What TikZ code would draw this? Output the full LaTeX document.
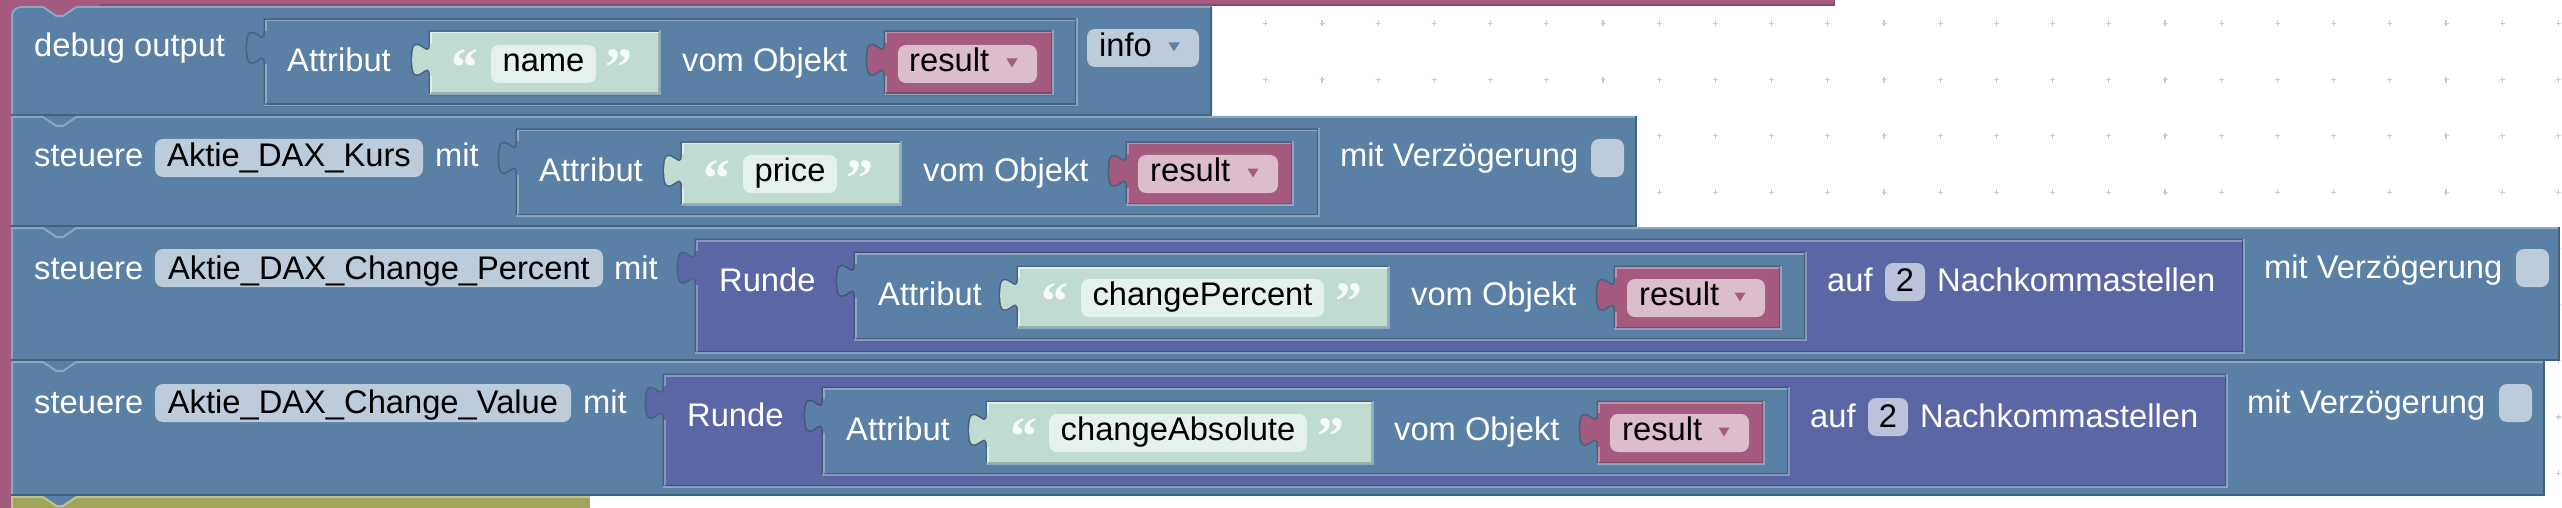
\documentclass[tikz,border=0pt]{standalone}
\usepackage{fontspec}
\setmainfont{Liberation Sans}
\newfontfamily\qfont{Liberation Serif}
\definecolor{bl}{HTML}{5B80A5}
\definecolor{bll}{HTML}{8CA6C0}
\definecolor{bld}{HTML}{45627F}
\definecolor{pk}{HTML}{A55B80}
\definecolor{pkl}{HTML}{C08CA6}
\definecolor{pkd}{HTML}{844966}
\definecolor{gr}{HTML}{C0DCD2}
\definecolor{grl}{HTML}{E0EEE9}
\definecolor{grd}{HTML}{9AB5AB}
\definecolor{rd}{HTML}{5B67A5}
\definecolor{rdl}{HTML}{8C95C0}
\definecolor{rdd}{HTML}{465080}
\definecolor{ol}{HTML}{A0A55B}
\definecolor{oll}{HTML}{C0C48C}
\definecolor{blf}{HTML}{BDCCDB}
\definecolor{pkf}{HTML}{DBBDCC}
\definecolor{grf}{HTML}{E5F1ED}
\definecolor{rdf}{HTML}{BDC2DB}
\definecolor{dotc}{HTML}{CCCCCC}
\definecolor{qc}{HTML}{F5FAF8}
\newcommand\fs{\fontsize{32.7}{38}\selectfont}
% child output block: L T R B fill light dark parentdark parentlight
\newcommand\child[9]{%
\begin{scope}[shift={(#1,#2)}]
\pgfmathsetmacro\W{#3-#1}%
\pgfmathsetmacro\H{#4-#2}%
\draw[#8, line width=3] (0,0) -- (\W,0) -- (\W,\H) -- (0,\H) -- (0,44.5) .. controls (0,22.2) and (-17.8,62.3) .. (-17.8,27.8) .. controls (-17.8,-6.7) and (0,33.4) .. (0,11.1) -- cycle;
\draw[#9, line width=1.5] (-1.5,\H+0.75) -- (\W+0.75,\H+0.75) -- (\W+0.75,-1.5);
\fill[#5] (0,0) -- (\W,0) -- (\W,\H) -- (0,\H) -- (0,44.5) .. controls (0,22.2) and (-17.8,62.3) .. (-17.8,27.8) .. controls (-17.8,-6.7) and (0,33.4) .. (0,11.1) -- cycle;
\draw[#6, line width=1.5] (0.75,11.1) -- (0.75,0.75) -- (\W-0.75,0.75) (0.75,44.5) -- (0.75,\H);
\draw[#7, line width=1.5] (0.75,\H-0.75) -- (\W-0.75,\H-0.75) -- (\W-0.75,0.75);
\end{scope}}
% statement block row: top bottom right
\newcommand\row[3]{%
\fill[bl] (11,#1) rectangle (#3,#2);
\draw[bll, line width=2] (12,#2) -- (12,#1+1) -- (43,#1+1) -- (56.4,#1+10) -- (63,#1+10) -- (76.4,#1+1) -- (#3-1,#1+1);
\draw[bld, line width=2] (#3-1,#1) -- (#3-1,#2-1) -- (11,#2-1);}
\newcommand\tri[3]{\fill[#3] (#1-5.5,#2-4.5) -- (#1+5.5,#2-4.5) -- (#1,#2+4.5) -- cycle;}
\tikzset{
 lab/.style={anchor=base west, inner sep=0, text=white, font=\fs},
 blk/.style={anchor=base west, inner sep=0, text=black, font=\fs},
 ftxt/.style={anchor=base, inner sep=0, text=black, font=\fs},
 quo/.style={anchor=base west, inner sep=0, text=qc, font=\qfont\bfseries\fontsize{54}{54}\selectfont},
}
\begin{document}
\begin{tikzpicture}[x=1pt,y=-1pt]
\useasboundingbox (0,0) rectangle (2562,508);
\fill[white] (0,0) rectangle (2562,508);
\foreach \i in {0,...,45}{\foreach \j in {0,...,8}{
 \draw[dotc, line width=1.2] (29.4+56.2*\i-2.5,23.5+56.2*\j) -- ++(5,0) (29.4+56.2*\i,23.5+56.2*\j-3) -- ++(0,6);}}
% pink surrounding block
\fill[pk] (0,0) rectangle (1835,6);
\fill[pk] (0,0) rectangle (11,508);
\fill[pk] (0,0) rectangle (100,24);
\draw[pkd, line width=1.5] (100,5.25) -- (1834.25,5.25) -- (1834.25,0);
% ---------- row 1
\fill[bl] (11,116) -- (11,16) .. controls (11,10.5) and (15.5,6) .. (21,6) -- (43,6) -- (56.4,15) -- (63,15) -- (76.4,6) -- (1212,6) -- (1212,116) -- cycle;
\draw[bll, line width=2] (12,116) -- (12,16) .. controls (12,11) and (16,7) .. (21,7) -- (43,7) -- (56.4,16) -- (63,16) -- (76.4,7) -- (1211,7);
\draw[bld, line width=2] (1211,7) -- (1211,115) -- (11,115);
\child{265}{20}{1076}{105}{bl}{bll}{bld}{bld}{bll}
\child{430}{32}{659}{94}{gr}{grl}{grd}{bld}{bll}
\child{885}{32}{1052}{94}{pk}{pkl}{pkd}{bld}{bll}
\node[lab] (r1a) at (34,57) {debug output};
\node[lab] (r1b) at (287,72) {Attribut};
\node[quo] (r1q1) at (451,86) {“};
\fill[grf, rounded corners=8] (491,45) rectangle (596,83);
\node[ftxt] (r1n) at (543.5,72) {name};
\node[quo] (r1q2) at (605,86) {”};
\node[lab] (r1c) at (682,72) {vom Objekt};
\fill[pkf, rounded corners=8] (898,45) rectangle (1037,83);
\node[blk] (r1r) at (909,72) {result};
\tri{1012}{63}{pk}
\fill[blf, rounded corners=8] (1087,29) rectangle (1199,67);
\node[blk] (r1i) at (1099,57) {info};
\tri{1174}{47}{bl}
% ---------- row 2
\row{116}{227}{1637}
\child{517}{130}{1318}{215}{bl}{bll}{bld}{bld}{bll}
\child{682}{143}{900}{204}{gr}{grl}{grd}{bld}{bll}
\child{1127}{143}{1292}{204}{pk}{pkl}{pkd}{bld}{bll}
\node[lab] (r2a) at (34,167) {steuere};
\fill[blf, rounded corners=8] (155,139) rectangle (423,177);
\node[ftxt] (r2v) at (289,167) {Aktie\_DAX\_Kurs};
\node[lab] (r2m) at (435,167) {mit};
\node[lab] (r2b) at (539,182) {Attribut};
\node[quo] (r2q1) at (703,196) {“};
\fill[grf, rounded corners=8] (743,155) rectangle (837,193);
\node[ftxt] (r2n) at (790,182) {price};
\node[quo] (r2q2) at (846,196) {”};
\node[lab] (r2c) at (923,182) {vom Objekt};
\fill[pkf, rounded corners=8] (1138,155) rectangle (1278,193);
\node[blk] (r2r) at (1150,182) {result};
\tri{1253}{173}{pk}
\node[lab] (r2d) at (1340,167) {mit Verzögerung};
\fill[blf, rounded corners=8] (1591,139) rectangle (1624,177);
% ---------- row 3
\row{227}{361}{2560}
\child{696}{240}{2243}{352}{rd}{rdl}{rdd}{bld}{bll}
\child{855}{253}{1805}{339}{bl}{bll}{bld}{rdd}{rdl}
\child{1018}{267}{1388}{327}{gr}{grl}{grd}{bld}{bll}
\child{1615}{267}{1780}{328}{pk}{pkl}{pkd}{bld}{bll}
\node[lab] (r3a) at (34,279) {steuere};
\fill[blf, rounded corners=8] (155,249) rectangle (603,287);
\node[ftxt] (r3v) at (379,279) {Aktie\_DAX\_Change\_Percent};
\node[lab] (r3m) at (614,279) {mit};
\node[lab] (r3e) at (719,291) {Runde};
\node[lab] (r3b) at (878,305) {Attribut};
\node[quo] (r3q1) at (1041,319) {“};
\fill[grf, rounded corners=8] (1081,279) rectangle (1324,317);
\node[ftxt] (r3n) at (1202.5,305) {changePercent};
\node[quo] (r3q2) at (1335,319) {”};
\node[lab] (r3c) at (1411,305) {vom Objekt};
\fill[pkf, rounded corners=8] (1627,279) rectangle (1765,317);
\node[blk] (r3r) at (1639,305) {result};
\tri{1740}{297}{pk}
\node[lab] (r3f) at (1827,291) {auf};
\fill[rdf, rounded corners=8] (1885,263) rectangle (1925,301);
\node[ftxt] (r3k) at (1905,291) {2};
\node[lab] (r3g) at (1937,291) {Nachkommastellen};
\node[lab] (r3d) at (2264,278) {mit Verzögerung};
\fill[blf, rounded corners=8] (2516,249) rectangle (2549,287);
% ---------- row 4
\row{361}{496}{2545}
\child{664}{375}{2226}{486}{rd}{rdl}{rdd}{bld}{bll}
\child{823}{388}{1788}{474}{bl}{bll}{bld}{rdd}{rdl}
\child{987}{402}{1372}{463}{gr}{grl}{grd}{bld}{bll}
\child{1598}{402}{1763}{463}{pk}{pkl}{pkd}{bld}{bll}
\node[lab] (r4a) at (34,413) {steuere};
\fill[blf, rounded corners=8] (155,384) rectangle (571,422);
\node[ftxt] (r4v) at (363,413) {Aktie\_DAX\_Change\_Value};
\node[lab] (r4m) at (583,413) {mit};
\node[lab] (r4e) at (687,426) {Runde};
\node[lab] (r4b) at (846,440) {Attribut};
\node[quo] (r4q1) at (1010,454) {“};
\fill[grf, rounded corners=8] (1049,414) rectangle (1307,452);
\node[ftxt] (r4n) at (1178,440) {changeAbsolute};
\node[quo] (r4q2) at (1317,454) {”};
\node[lab] (r4c) at (1394,440) {vom Objekt};
\fill[pkf, rounded corners=8] (1610,414) rectangle (1749,452);
\node[blk] (r4r) at (1622,440) {result};
\tri{1724}{432}{pk}
\node[lab] (r4f) at (1810,427) {auf};
\fill[rdf, rounded corners=8] (1868,398) rectangle (1908,436);
\node[ftxt] (r4k) at (1888,427) {2};
\node[lab] (r4g) at (1920,427) {Nachkommastellen};
\node[lab] (r4d) at (2247,413) {mit Verzögerung};
\fill[blf, rounded corners=8] (2499,384) rectangle (2532,422);
% ---------- olive block below
\fill[ol] (11,496) rectangle (590,508);
\fill[bl] (43,496) -- (56.4,505) -- (63,505) -- (76.4,496) -- cycle;
\draw[oll, line width=2] (12,508) -- (12,497) -- (43,497) -- (56.4,506) -- (63,506) -- (76.4,497) -- (590,497);
\end{tikzpicture}
\end{document}
